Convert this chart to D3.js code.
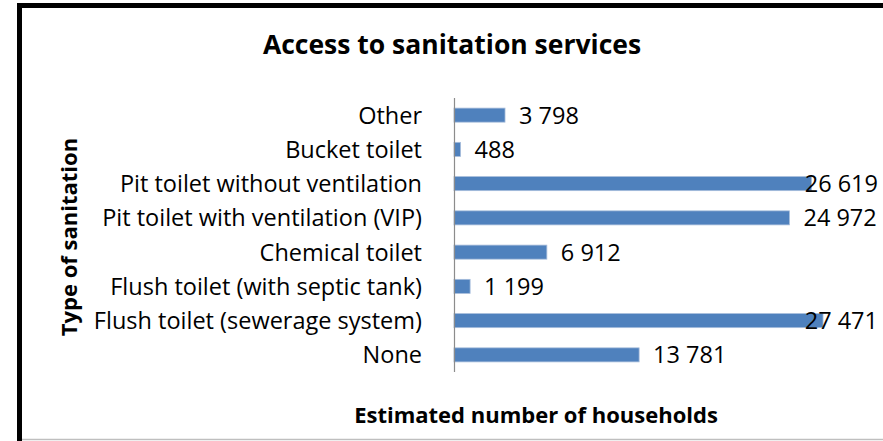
<!DOCTYPE html>
<html>
<head>
<meta charset="utf-8">
<script src="https://d3js.org/d3.v7.min.js"></script>
<style>
  body { margin: 0; background: #fff; }
  text { font-family: "Open Sans", "Liberation Sans", sans-serif; fill: #000; }
</style>
</head>
<body>
<div id="chart"></div>
<script>
// data, top row first as in the picture
var categories = ["Other", "Bucket toilet", "Pit toilet without ventilation",
  "Pit toilet with ventilation (VIP)", "Chemical toilet",
  "Flush toilet (with septic tank)", "Flush toilet (sewerage system)", "None"];
var households = [3798, 488, 26619, 24972, 6912, 1199, 27471, 13781];
var valueLabels = ["3 798", "488", "26 619", "24 972", "6 912", "1 199", "27 471", "13 781"];

var W = 883, H = 441;

var svg = d3.select("#chart").append("svg")
    .attr("width", W)
    .attr("height", H);

svg.append("rect").attr("width", W).attr("height", H).attr("fill", "#fff");

// frame: heavy black top/left, thin grey bottom
svg.append("path")
    .attr("d", "M19.5,441 V5.5 H883")
    .attr("fill", "none").attr("stroke", "#000").attr("stroke-width", 5);
svg.append("line")
    .attr("x1", 22).attr("x2", W).attr("y1", 439.5).attr("y2", 439.5)
    .attr("stroke", "#bfbfbf").attr("stroke-width", 1.5);

var x = d3.scaleLinear().domain([0, 30000]).range([454, 857]);
var y = d3.scaleBand().domain(categories).range([98, 372])
    .paddingInner(0.59).paddingOuter(0.295);

// bars
svg.selectAll("rect.bar")
    .data(households)
    .enter().append("rect")
    .attr("class", "bar")
    .attr("x", x(0))
    .attr("y", function(d, i) { return y(categories[i]); })
    .attr("width", function(d) { return x(d) - x(0); })
    .attr("height", y.bandwidth())
    .attr("fill", "#4f81bd")
    .attr("stroke", "#a7bddb")
    .attr("stroke-width", 0.8);

// category axis (line only, labels right aligned)
svg.append("line")
    .attr("x1", 454.5).attr("x2", 454.5).attr("y1", 98).attr("y2", 372)
    .attr("stroke", "#8c8c8c").attr("stroke-width", 1.2);

svg.selectAll("text.cat")
    .data(categories)
    .enter().append("text")
    .attr("class", "cat")
    .attr("x", 422)
    .attr("y", function(d) { return y(d) + y.bandwidth() / 2; })
    .attr("dy", "0.36em")
    .attr("text-anchor", "end")
    .style("font-size", "23.5px")
    .text(function(d) { return d; });

// value labels, kept inside the chart on the right
svg.selectAll("text.val")
    .data(households)
    .enter().append("text")
    .attr("class", "val")
    .attr("y", function(d, i) { return y(categories[i]) + y.bandwidth() / 2; })
    .attr("dy", "0.36em")
    .style("font-size", "23.5px")
    .text(function(d, i) { return valueLabels[i]; })
    .attr("x", function(d) {
        var w = this.getComputedTextLength();
        return Math.min(x(d) + 14, 878 - w);
    });

// titles
svg.append("text")
    .attr("x", 452).attr("y", 54)
    .attr("text-anchor", "middle")
    .style("font-size", "26.5px").style("font-weight", "bold")
    .text("Access to sanitation services");

svg.append("text")
    .attr("x", 536).attr("y", 423)
    .attr("text-anchor", "middle")
    .style("font-size", "22px").style("font-weight", "bold")
    .text("Estimated number of households");

svg.append("text")
    .attr("transform", "translate(77,237) rotate(-90)")
    .attr("text-anchor", "middle")
    .style("font-size", "22px").style("font-weight", "bold")
    .text("Type of sanitation");
</script>
</body>
</html>
